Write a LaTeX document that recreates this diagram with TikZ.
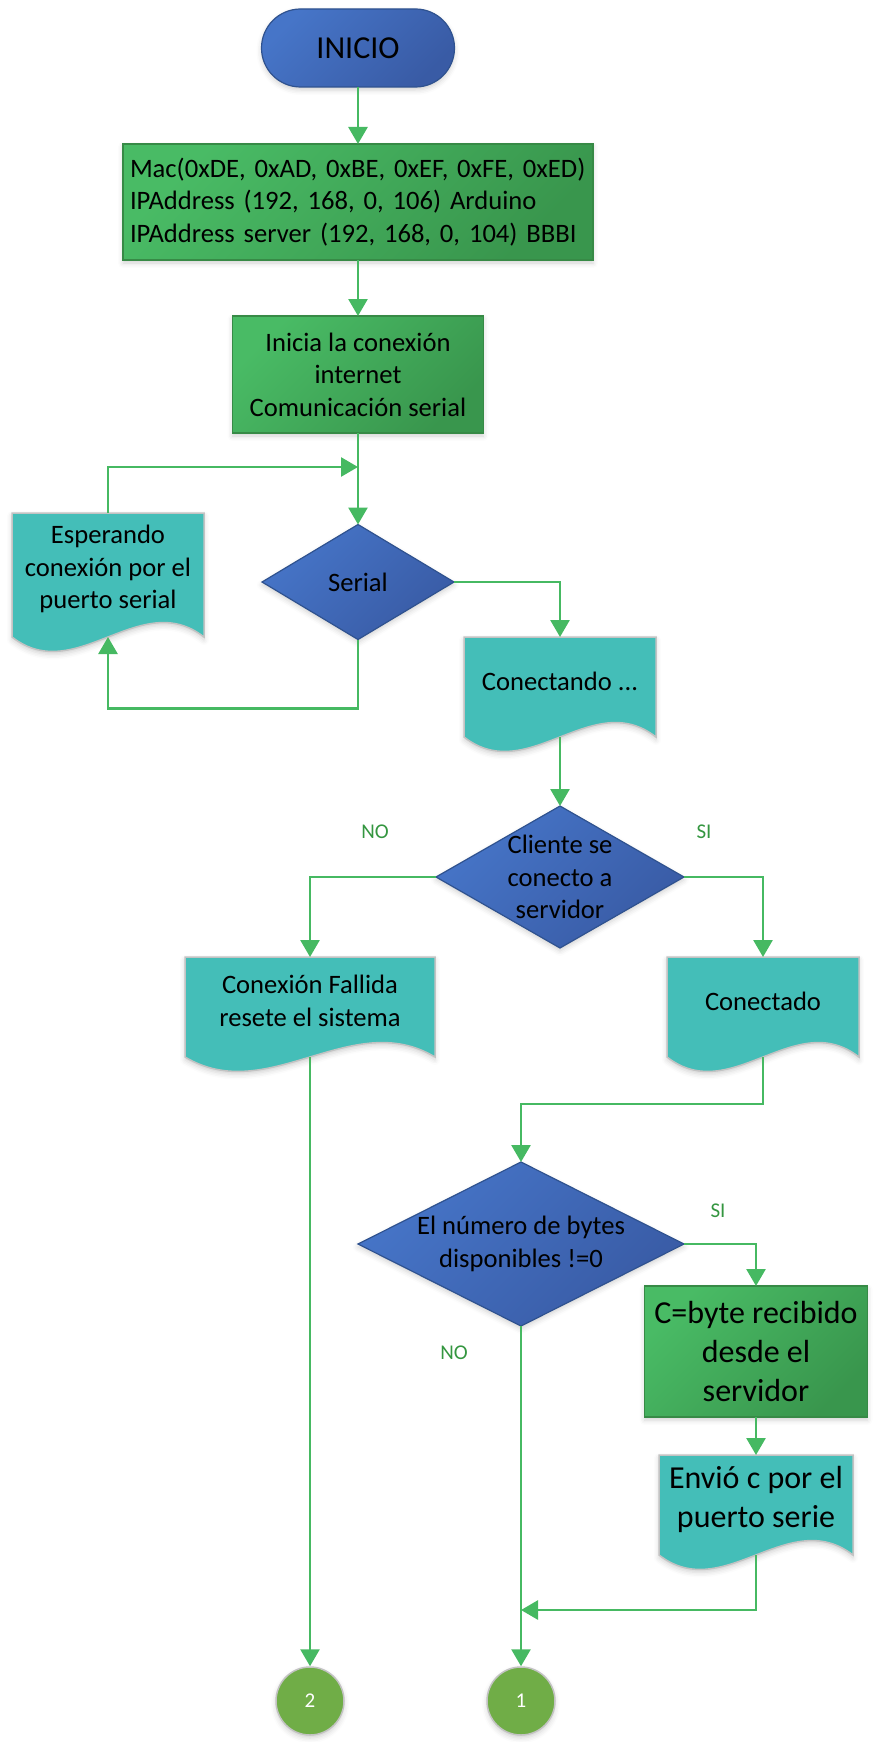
\documentclass[tikz,border=0pt]{standalone}
\usepackage{fontspec}
\setmainfont{Carlito}
\usetikzlibrary{shapes.geometric,shapes.misc,arrows.meta,backgrounds,shadows.blur}

\definecolor{azulclaro}{RGB}{70,117,200}
\definecolor{azuloscuro}{RGB}{57,91,165}
\definecolor{azulborde}{RGB}{47,82,143}
\definecolor{verdeclaro}{RGB}{73,187,101}
\definecolor{verdeoscuro}{RGB}{57,150,77}
\definecolor{verdeborde}{RGB}{55,138,70}
\definecolor{turquesa}{RGB}{68,190,184}
\definecolor{grisborde}{RGB}{195,195,195}
\definecolor{linea}{RGB}{70,185,98}
\definecolor{etiqueta}{RGB}{52,150,64}
\definecolor{conector}{RGB}{112,173,71}

\begin{document}
\begin{tikzpicture}[x=1pt,y=-1pt,
  sombra/.style={blur shadow={shadow xshift=0pt, shadow yshift=-3pt, shadow blur radius=5pt, shadow opacity=18}},
  texto/.style={font=\fontsize{26.6}{32.5}\selectfont, inner sep=0pt, outer sep=0pt, align=center},
  terminal/.style={texto, rounded rectangle, draw=azulborde, line width=1.2pt, sombra,
    top color=azulclaro, bottom color=azuloscuro, shading angle=45},
  decision/.style={texto, diamond, draw=azulborde, line width=1.2pt, sombra,
    top color=azulclaro, bottom color=azuloscuro, shading angle=45},
  proceso/.style={texto, rectangle, draw=verdeborde, line width=1.2pt, sombra,
    top color=verdeclaro, bottom color=verdeoscuro, shading angle=45},
  documento/.style={texto, rectangle, minimum height=88pt},
  docforma/.style={fill=turquesa, draw=grisborde, line width=1.5pt, sombra},
  salida/.style={circle, inner sep=0pt, minimum size=68pt, fill=conector, sombra,
    draw=grisborde, line width=1.5pt, text=white, font=\fontsize{21}{25}\selectfont},
  etq/.style={text=etiqueta, font=\fontsize{21}{25}\selectfont},
  flujo/.style={draw=linea, line width=2.7pt, -{Triangle[length=17pt,width=19pt]}}
]
  \useasboundingbox (0,0) rectangle (873,1742);

  % Inicio y datos de red
  \node[terminal, minimum width=193pt, minimum height=78pt, font=\fontsize{32}{38}\selectfont]
    (inicio) at (358,48) {INICIO};
  \node[proceso, minimum width=470pt, minimum height=116pt, text width=456pt, align=left] (mac) at (358,202)
    {Mac(0xDE, 0xAD, 0xBE, 0xEF, 0xFE, 0xED)\\IPAddress (192, 168, 0, 106) Arduino\\IPAddress server (192, 168, 0, 104) BBBI};
  \node[proceso, minimum width=251pt, minimum height=117pt] (inicia) at (358,374.5)
    {Inicia la conexión\\internet\\Comunicación serial};

  % Espera del puerto serie
  \coordinate (union) at (358,467);
  \node[decision, minimum width=192pt, minimum height=115pt, aspect=1.67] (serial) at (358,582) {Serial};
  \node[documento, minimum width=192pt, minimum height=112pt] (espera) at (108,569)
    {Esperando\\conexión por el\\puerto serial};
  \node[documento, minimum width=192pt] (conectando) at (560,681) {Conectando ...};

  % Conexion con el servidor
  \node[decision, minimum width=248pt, minimum height=142pt, aspect=1.75, inner sep=-5pt]
    (cliente) at (560,877) {Cliente se\\conecto a\\servidor};
  \node[etq] (no1) at (375,832) {NO};
  \node[etq] (si1) at (704,832) {SI};
  \node[documento, minimum width=250pt] (fallida) at (310,1001) {Conexión Fallida\\resete el sistema};
  \node[documento, minimum width=192pt] (conectado) at (763,1001) {Conectado};

  % Lectura de bytes
  \node[decision, minimum width=326pt, minimum height=164pt, aspect=2, inner sep=-1pt]
    (numero) at (521,1244) {El número de bytes\\disponibles !=0};
  \node[etq] (si2) at (718,1211) {SI};
  \node[etq] (no2) at (454,1353) {NO};
  \node[proceso, minimum width=223pt, minimum height=131pt, font=\fontsize{32}{39}\selectfont]
    (byte) at (756,1351.5) {C=byte recibido\\desde el\\servidor};
  \node[documento, minimum width=194pt, font=\fontsize{32}{39}\selectfont]
    (envio) at (756,1499) {Envió c por el\\puerto serie};
  \coordinate (retorno) at (521,1610);

  % Conectores de salida
  \node[salida] (uno) at (521,1701) {1};
  \node[salida] (dos) at (310,1701) {2};

  % Formas de documento (borde inferior ondulado)
  \begin{scope}[on background layer]
    \foreach \d/\w in {espera/192,conectando/192,fallida/250,conectado/192,envio/194}{
      \draw[docforma] (\d.north west) -- (\d.north east) -- ([yshift=-12pt]\d.south east)
        .. controls +(-\w/3,-50) and +(\w/3,50) .. ([yshift=-12pt]\d.south west) -- cycle;
      \coordinate (\d-b) at ([yshift=-12pt]\d.south);
    }
  \end{scope}

  % Flechas
  \draw[flujo] (inicio) -- (mac);
  \draw[flujo] (mac) -- (inicia);
  \draw[flujo] (inicia) -- (serial);
  \draw[flujo] (espera.north) |- (union);
  \draw[flujo] (serial.south) -- ++(0,69) -| (espera-b);
  \draw[flujo] (serial.east) -| (conectando.north);
  \draw[flujo] (conectando-b) -- (cliente.north);
  \draw[flujo] (cliente.west) -| (fallida.north);
  \draw[flujo] (cliente.east) -| (conectado.north);
  \draw[flujo] (conectado-b) -- ++(0,47) -| (numero.north);
  \draw[flujo] (numero.east) -| (byte.north);
  \draw[flujo] (byte) -- (envio);
  \draw[flujo] (envio-b) |- (retorno);
  \draw[flujo] (numero.south) -- (uno);
  \draw[flujo] (fallida-b) -- (dos);
\end{tikzpicture}
\end{document}
